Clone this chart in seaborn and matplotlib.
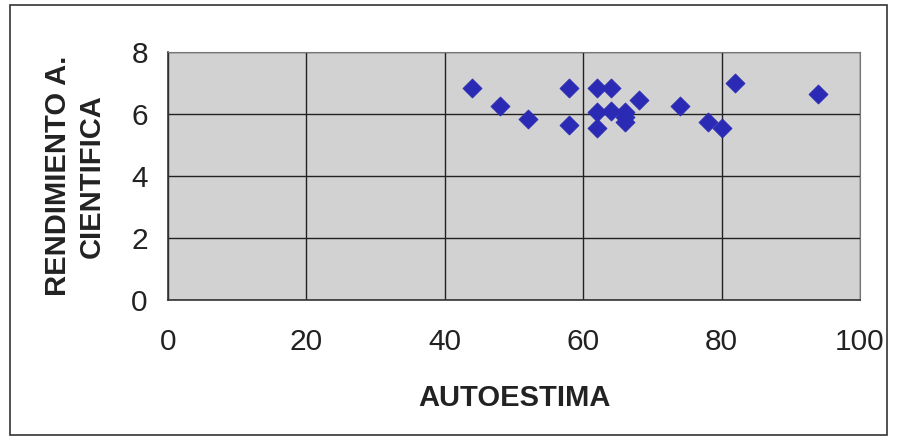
import matplotlib
matplotlib.use('Agg')
import matplotlib.pyplot as plt
import seaborn as sns
import pandas as pd
from matplotlib.patches import Rectangle

# values
autoestima = [44, 48, 52, 58, 58, 62, 62, 62, 64, 64, 66, 66, 66, 68, 74, 78, 80, 82, 94]
rendimiento = [6.85, 6.25, 5.85, 6.85, 5.65, 6.85, 6.05, 5.55, 6.85, 6.1, 6.05, 5.9, 5.75,
               6.45, 6.25, 5.75, 5.55, 7.0, 6.65]
x_ticks = [0, 20, 40, 60, 80, 100]
y_ticks = [0, 2, 4, 6, 8]

df = pd.DataFrame({'AUTOESTIMA': autoestima, 'RENDIMIENTO': rendimiento})

sns.set_style('white')
plt.rcParams['font.family'] = ['Liberation Sans', 'DejaVu Sans']

fig = plt.figure(figsize=(8.97, 4.37), dpi=100)
fig.patches.append(Rectangle((10 / 897, 2 / 437), 877 / 897, 430 / 437, transform=fig.transFigure,
                             fill=False, edgecolor='#333333', linewidth=1.2))

ax = fig.add_axes([168 / 897, 137 / 437, 692 / 897, 248 / 437])
ax.set_facecolor('#d2d2d2')

sns.scatterplot(data=df, x='AUTOESTIMA', y='RENDIMIENTO', ax=ax, marker='D', s=95,
                color='#2a2ab5', edgecolor='#2a2ab5', linewidth=0.5, zorder=3)

ax.set_xlim(0, 100)
ax.set_ylim(0, 8)
ax.set_xticks(x_ticks)
ax.set_yticks(y_ticks)
ax.grid(True, color='#222222', linewidth=1.0)
ax.set_axisbelow(True)
for side in ['top', 'right']:
    ax.spines[side].set_color('#777777')
for side in ['left', 'bottom']:
    ax.spines[side].set_color('#333333')
    ax.spines[side].set_linewidth(1.2)

ax.tick_params(axis='both', direction='out', length=7.5, width=1, colors='#222222',
               labelsize=21.5, labelcolor='#222222')
ax.tick_params(axis='x', pad=13)
ax.tick_params(axis='y', pad=7)

ax.set_xlabel('AUTOESTIMA', fontsize=21, fontweight='bold', color='#222222', labelpad=20)
ax.set_ylabel('RENDIMIENTO A.\nCIENTIFICA', fontsize=21, fontweight='bold', color='#222222',
              labelpad=18, linespacing=1.3)

fig.savefig('out.png', dpi=100)
